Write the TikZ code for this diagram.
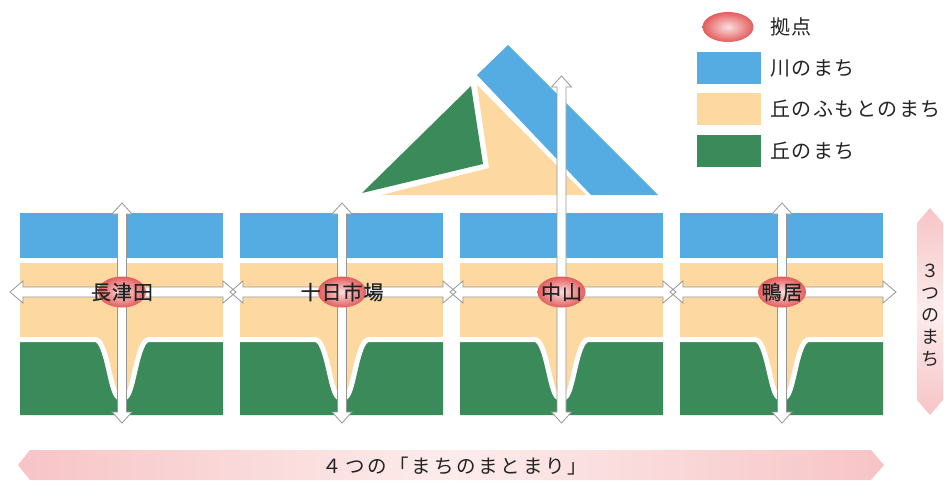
\documentclass[tikz,border=0pt]{standalone}
\usepackage{fontspec}
\usetikzlibrary{shapes.geometric}
\newfontfamily\jp{Noto Sans CJK JP}
\newfontfamily\jphub[FakeBold=0.8,LetterSpace=5]{Noto Sans CJK JP}
\newfontfamily\jplegend[LetterSpace=8]{Noto Sans CJK JP}
\newfontfamily\jpbar[LetterSpace=14]{Noto Sans CJK JP}
\definecolor{riverblue}{RGB}{84,172,226}
\definecolor{footorange}{RGB}{253,216,160}
\definecolor{hillgreen}{RGB}{58,138,90}
\definecolor{nodered}{RGB}{228,92,92}
\definecolor{nodepink}{RGB}{250,222,222}
\definecolor{barpink}{RGB}{247,196,198}
\definecolor{barlight}{RGB}{253,236,236}
\definecolor{arrowgray}{RGB}{150,150,150}
\definecolor{txt}{RGB}{35,35,35}
% vertical double arrow: x, ytop, ybottom
\newcommand\vertarrowpath[3]{(#1-4.5,#2+11) -- (#1-10,#2+11) -- (#1,#2) -- (#1+10,#2+11) -- (#1+4.5,#2+11) -- (#1+4.5,#3-11) -- (#1+10,#3-11) -- (#1,#3) -- (#1-10,#3-11) -- (#1-4.5,#3-11) -- cycle}
% horizontal double arrow: xleft, xright, y
\newcommand\horizarrowpath[3]{(#1,#3) -- (#1+13,#3-11) -- (#1+13,#3-5) -- (#2-13,#3-5) -- (#2-13,#3-11) -- (#2,#3) -- (#2-13,#3+11) -- (#2-13,#3+5) -- (#1+13,#3+5) -- (#1+13,#3+11) -- cycle}
\begin{document}
\begin{tikzpicture}[x=1pt,y=-1pt,
  hub/.style={ellipse,minimum width=48pt,minimum height=31pt,inner sep=0pt,inner color=nodepink,outer color=nodered},
  hublabel/.style={font=\jphub\fontsize{20}{20}\selectfont,text=txt,inner sep=0pt},
  legendtext/.style={font=\jplegend\fontsize{20}{20}\selectfont,text=txt,anchor=west,inner sep=0pt},
  arrowfill/.style={fill=white},
  arrowline/.style={draw=arrowgray,line width=0.8pt,line join=miter}]
\useasboundingbox (0,0) rectangle (944,480);

% mountain
\fill[riverblue] (477,75) -- (508,45) -- (658,195) -- (591,195) -- cycle;
\fill[footorange] (477,85) -- (586,195) -- (381,195) -- (489,168) -- cycle;
\fill[hillgreen] (471,86) -- (483,164) -- (362,193) -- cycle;

% panels
\foreach \L/\cx in {20/122,240/342,460/561.5,680/782}{
  \fill[riverblue] (\L,213) rectangle (\L+203,258);
  \fill[footorange] (\L,263) rectangle (\L+203,400);
  \fill[hillgreen] (\L,339.5) -- (\cx-27,339.5) .. controls (\cx-15,339.5) and (\cx-12,392) .. (\cx-4,397)
     -- (\cx+4,397) .. controls (\cx+12,392) and (\cx+15,339.5) .. (\cx+27,339.5)
     -- (\L+203,339.5) -- (\L+203,415) -- (\L,415) -- cycle;
  \draw[white,line width=5pt] (\L,339.5) -- (\cx-27,339.5) .. controls (\cx-15,339.5) and (\cx-12,392) .. (\cx-4,397)
     -- (\cx+4,397) .. controls (\cx+12,392) and (\cx+15,339.5) .. (\cx+27,339.5) -- (\L+203,339.5);
}

% horizontal arrows: fills first, then outlines (crossing heads)
\foreach \L in {20,240,460,680}{
  \path[arrowfill] \horizarrowpath{\L-10}{\L+216}{292};
}
\foreach \L in {20,240,460,680}{
  \path[arrowline] \horizarrowpath{\L-10}{\L+216}{292};
}

% vertical arrows
\path[arrowfill,arrowline] \vertarrowpath{122}{203}{423};
\path[arrowfill,arrowline] \vertarrowpath{342}{203}{423};
\path[arrowfill,arrowline] \vertarrowpath{561.5}{76}{423};
\path[arrowfill,arrowline] \vertarrowpath{782}{203}{423};

% hubs
\node[hub] (h1) at (122,292) {};
\node[hub] (h2) at (342,292) {};
\node[hub] (h3) at (561.5,292) {};
\node[hub] (h4) at (782,292) {};
\node[hublabel] (t1) at (122,292) {長津田};
\node[hublabel] (t2) at (342,292) {十日市場};
\node[hublabel] (t3) at (561.5,292) {中山};
\node[hublabel] (t4) at (782,292) {鴨居};

% legend
\node[hub,minimum width=51pt,minimum height=30pt] (lg1) at (728,27) {};
\fill[riverblue] (697,52) rectangle (761,84);
\fill[footorange] (697,93) rectangle (761,125);
\fill[hillgreen] (697,135) rectangle (761,167);
\node[legendtext] (lt1) at (770,27) {拠点};
\node[legendtext] (lt2) at (770,68) {川のまち};
\node[legendtext] (lt3) at (770,109) {丘のふもとのまち};
\node[legendtext] (lt4) at (770,151) {丘のまち};

% right bar
\shade[top color=barpink,bottom color=barpink,middle color=barlight]
  (917,223) -- (930,208) -- (943,223) -- (943,400) -- (930,415) -- (917,400) -- cycle;
\node[font=\jp\fontsize{18}{22}\selectfont,text=txt,align=center,inner sep=0pt] (vt) at (930,315) {３\\つ\\の\\ま\\ち};

% bottom bar
\shade[left color=barpink,right color=barpink,middle color=barlight]
  (30,450) -- (871,450) -- (884,465) -- (871,480) -- (30,480) -- (18,465) -- cycle;
\node[font=\jpbar\fontsize{19.5}{19.5}\selectfont,text=txt,inner sep=0pt] (bt) at (455,466) {４つの「まちのまとまり」};
\end{tikzpicture}
\end{document}
